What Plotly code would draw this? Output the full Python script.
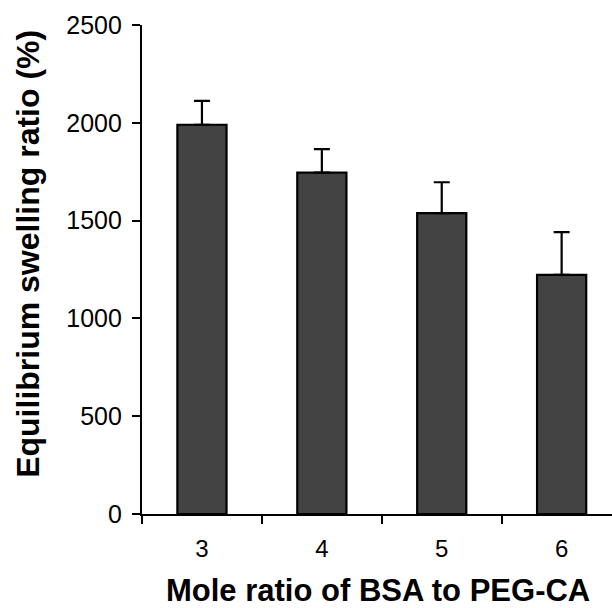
import plotly.graph_objects as go

categories = ["3", "4", "5", "6"]
swelling = [1990, 1745, 1538, 1223]
err_upper = [122, 120, 158, 218]
y_ticks = [0, 500, 1000, 1500, 2000, 2500]

fig = go.Figure()
fig.add_trace(go.Bar(
    x=categories, y=swelling, width=0.41,
    marker=dict(color="#434343", line=dict(color="black", width=2.2)),
    error_y=dict(type="data", symmetric=False, array=err_upper,
                 arrayminus=[0] * len(err_upper),
                 color="black", thickness=2.2, width=8),
))

fig.update_layout(
    width=612, height=608,
    margin=dict(l=142, r=0, t=25, b=94),
    plot_bgcolor="white", paper_bgcolor="white",
    showlegend=False,
    font=dict(family="Liberation Sans, Arial, sans-serif", color="black"),
    xaxis=dict(
        type="category", range=[-0.5, 3.42],
        showline=True, linecolor="black", linewidth=2.2,
        ticks="outside", tickson="boundaries", ticklen=8, tickwidth=2, tickcolor="black",
        tickfont=dict(size=24), ticklabelstandoff=12,
        showgrid=False, zeroline=False,
    ),
    yaxis=dict(
        range=[0, 2500], tickvals=y_ticks,
        showline=True, linecolor="black", linewidth=2.2,
        ticks="outside", ticklen=8, tickwidth=2, tickcolor="black",
        tickfont=dict(size=25), ticklabelstandoff=5,
        showgrid=False, zeroline=False,
    ),
    annotations=[
        dict(text="<b>Mole ratio of BSA to PEG-CA</b>", xref="paper", yref="paper",
             x=0.503, y=-0.156, xanchor="center", yanchor="middle",
             showarrow=False, font=dict(size=31)),
        dict(text="<b>Equilibrium swelling ratio (%)</b>", xref="paper", yref="paper",
             x=-0.2426, y=0.532, xanchor="center", yanchor="middle", textangle=-90,
             showarrow=False, font=dict(size=32)),
    ],
)

fig.write_html("out.html")
